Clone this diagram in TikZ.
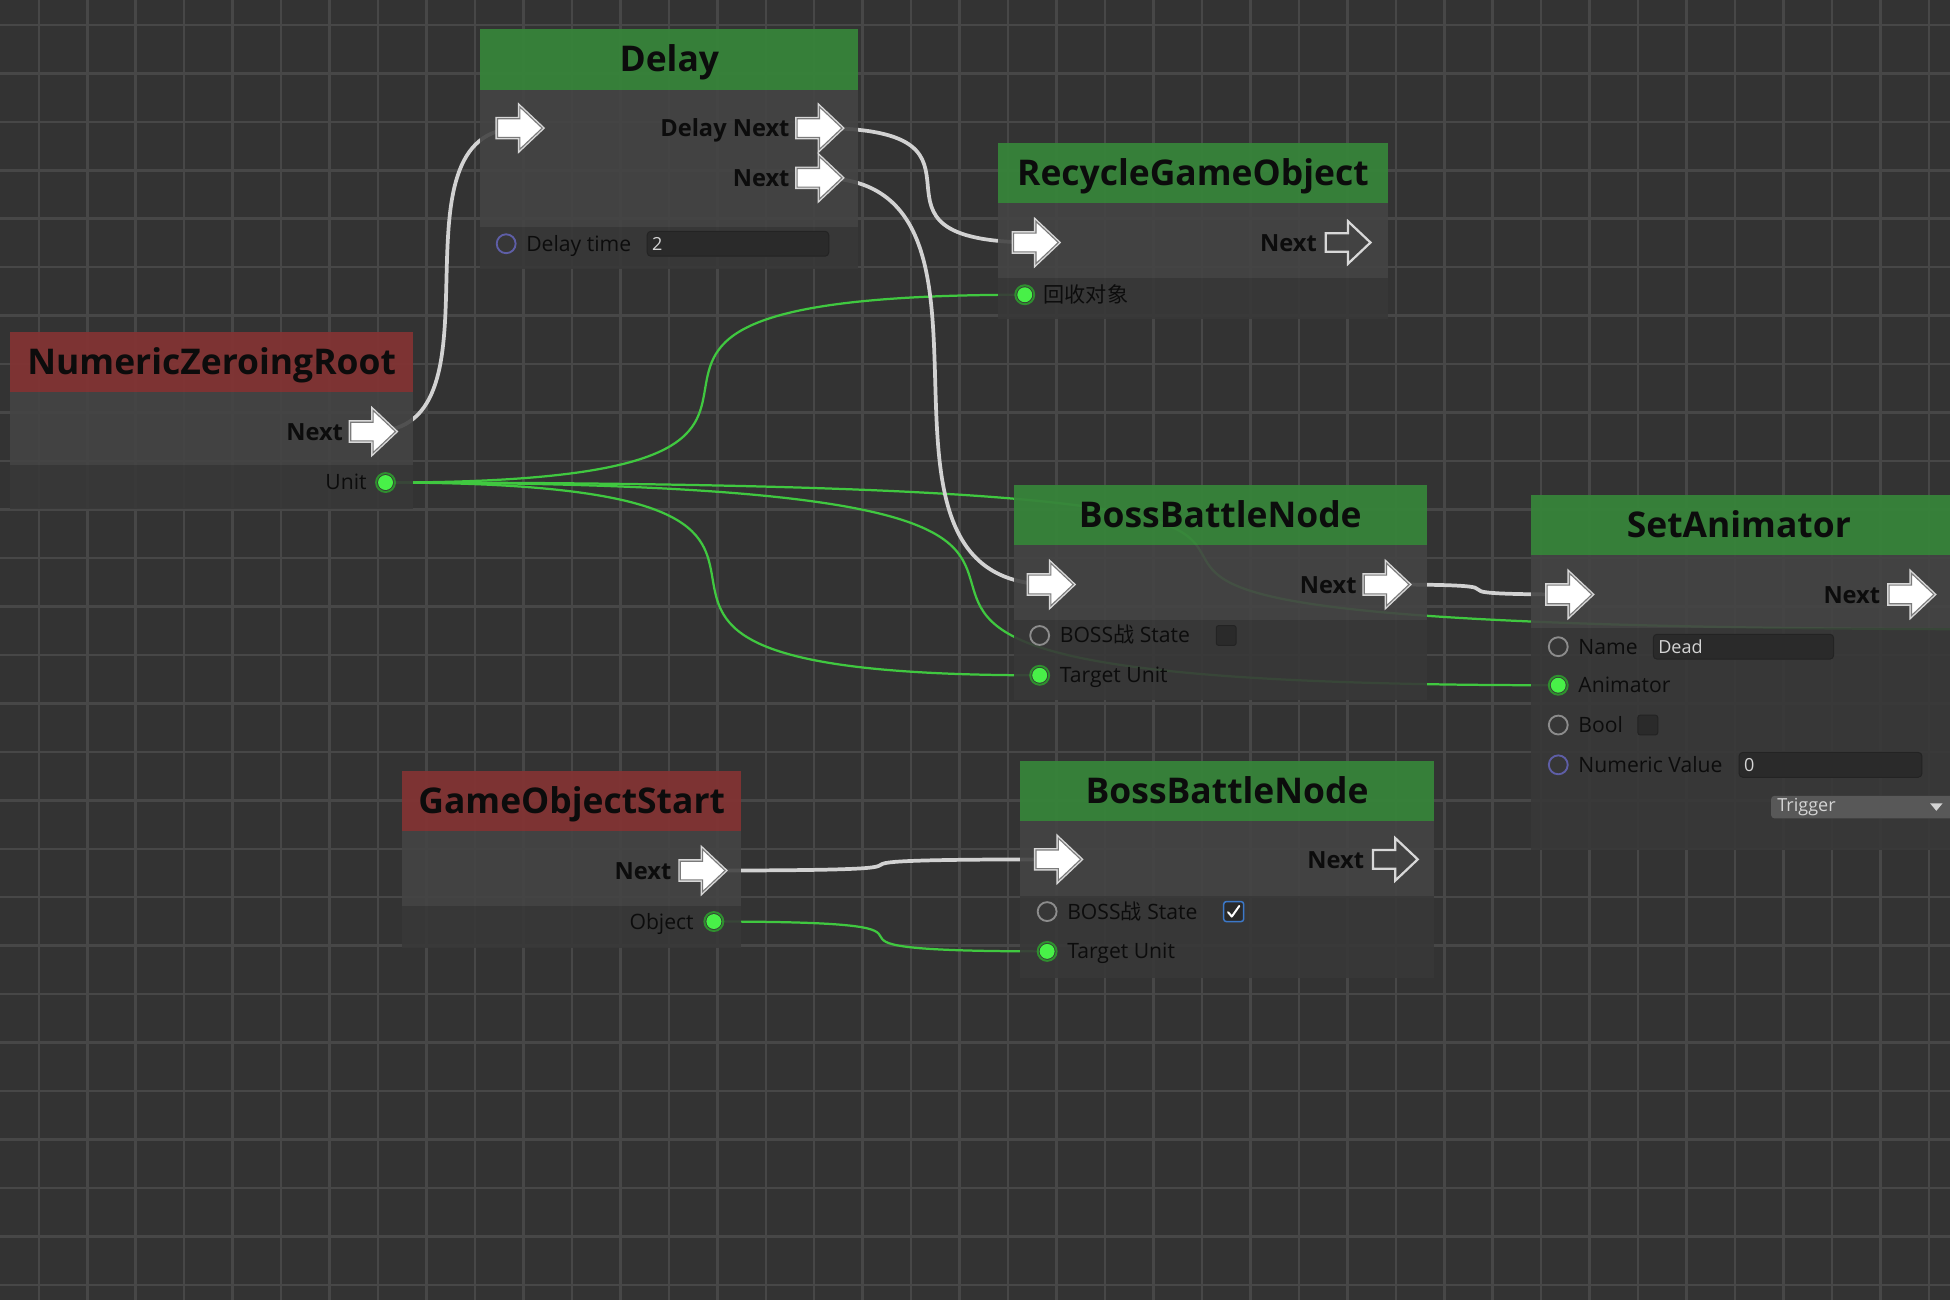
\documentclass[tikz,border=0pt]{standalone}
\usepackage{fontspec}
\setmainfont{Open Sans}
\newfontfamily\cjk{Noto Sans CJK SC}
\usetikzlibrary{calc}
\definecolor{bg}{HTML}{333333}
\definecolor{gridc}{HTML}{474747}
\definecolor{hdrgreen}{HTML}{37843A}
\definecolor{hdrred}{HTML}{823334}
\definecolor{bodyc}{HTML}{444444}
\definecolor{footc}{HTML}{383838}
\definecolor{wirew}{HTML}{D2D2D2}
\definecolor{wireg}{HTML}{40C840}
\definecolor{labelc}{HTML}{0C0C0C}
\definecolor{fieldc}{HTML}{2A2A2A}
\definecolor{fieldedge}{HTML}{232323}
\definecolor{fieldtxt}{HTML}{D4D4D4}
\definecolor{dotg}{HTML}{48F048}
\definecolor{dotring}{HTML}{2F8F2F}
\definecolor{ringgray}{HTML}{8C8C8C}
\definecolor{ringpurple}{HTML}{5E5EA6}
\definecolor{checkblue}{HTML}{3C78C8}
\definecolor{ddc}{HTML}{585858}
\definecolor{arrowedge}{HTML}{D8D8D8}
\definecolor{arrowdark}{HTML}{7A7A7A}

\tikzset{
  gridline/.style={gridc, line width=2pt},
  hdr/.style={anchor=north west, rectangle, inner sep=0pt, fill opacity=0.95, text opacity=1,
    font=\fontsize{28.5}{31}\selectfont\bfseries, text=labelc, text height=20.3pt, text depth=0pt},
  bodybox/.style={anchor=north west, rectangle, inner sep=0pt, fill=bodyc, fill opacity=0.9},
  footbox/.style={anchor=north west, rectangle, inner sep=0pt, fill=footc, fill opacity=0.9},
  whitewire/.style={wirew, line width=3pt},
  greenwire/.style={wireg, line width=1.8pt},
  lbl/.style={font=\fontsize{17}{20}\selectfont, text=labelc, inner sep=0pt},
  plbl/.style={font=\fontsize{19}{22}\selectfont\bfseries, text=labelc, inner sep=0pt},
  field/.style={rectangle, rounded corners=3pt, fill=fieldc, draw=fieldedge, line width=0.8pt,
    inner xsep=4pt, inner ysep=0pt, align=left, font=\fontsize{14.5}{16}\selectfont, text=fieldtxt},
  cbox/.style={rectangle, rounded corners=2pt, minimum size=16pt, inner sep=0pt, fill=fieldc, draw=fieldedge, line width=0.8pt},
  ddbox/.style={rectangle, rounded corners=2.5pt, fill=ddc, inner xsep=5pt, inner ysep=0pt, align=left,
    font=\fontsize{14.5}{16}\selectfont, text=fieldtxt},
  pics/fullarrow/.style={code={
    \draw[arrowedge, line width=3.2pt, line join=miter]
      (-18,-7.5) -- (0,-7.5) -- (0,-17) -- (18,0) -- (0,17) -- (0,7.5) -- (-18,7.5) -- cycle;
    \filldraw[fill=white, draw=arrowdark, line width=0.9pt, line join=miter]
      (-18,-7.5) -- (0,-7.5) -- (0,-17) -- (18,0) -- (0,17) -- (0,7.5) -- (-18,7.5) -- cycle;
  }},
  pics/hollowarrow/.style={code={
    \draw[arrowedge, line width=1.8pt, line join=miter]
      (-18,-7.5) -- (0,-7.5) -- (0,-17) -- (18,0) -- (0,17) -- (0,7.5) -- (-18,7.5) -- cycle;
  }},
  pics/gport/.style={code={
    \draw[dotring, line width=1.6pt] (0,0) circle (7.6pt);
    \fill[dotg] (0,0) circle (6pt);
  }},
  pics/eport/.style={code={
    \draw[ringgray, line width=1.5pt] (0,0) circle (7.6pt);
  }},
  pics/pport/.style={code={
    \draw[ringpurple, line width=1.5pt] (0,0) circle (7.6pt);
  }}
}

% name, x0, x1, ytop, yhead, ybody, ybottom, colour, title
\newcommand\panel[9]{%
  \node[hdr, fill=#8, minimum width={#3pt-#2pt}, minimum height={#5pt-#4pt}] (#1h) at (#2,#4) {#9};
  \node[bodybox, minimum width={#3pt-#2pt}, minimum height={#6pt-#5pt}] (#1b) at (#2,#5) {};
  \node[footbox, minimum width={#3pt-#2pt}, minimum height={#7pt-#6pt}] (#1f) at (#2,#6) {};
}
\newcommand\wire[3]{\draw[#1] let \p1=(#2), \p2=(#3), \n1={0.95*(\x2-\x1)} in
  (\p1) .. controls +(\n1,0) and +(-\n1,0) .. (\p2);}

\begin{document}
\begin{tikzpicture}[x=1pt, y=-1pt]
\useasboundingbox (0,0) rectangle (1568,1045);
\clip (0,0) rectangle (1568,1045);
\fill[bg] (0,0) rectangle (1568,1045);
\foreach \i in {0,...,40} {\draw[gridline] ({31.2+38.97*\i},0) -- ++(0,1045);}
\foreach \j in {0,...,27} {\draw[gridline] (0,{20+38.97*\j}) -- ++(1568,0);}

% ports
\coordinate (nzrNext) at (300,347);
\coordinate (nzrUnit) at (310,388);
\coordinate (delayIn) at (418,103);
\coordinate (delayDN) at (659,103);
\coordinate (delayNext) at (659,143);
\coordinate (delayTime) at (407,196);
\coordinate (recIn) at (833,195);
\coordinate (recNext) at (1084,195);
\coordinate (recObj) at (824,237);
\coordinate (bb1In) at (845,470);
\coordinate (bb1Next) at (1115,470);
\coordinate (bb1State) at (836,511);
\coordinate (bb1Target) at (836,543);
\coordinate (saIn) at (1262,478);
\coordinate (saNext) at (1537,478);
\coordinate (saName) at (1253,520);
\coordinate (saAnim) at (1253,551);
\coordinate (saBool) at (1253,583);
\coordinate (saNum) at (1253,615);
\coordinate (gosNext) at (565,700);
\coordinate (gosObj) at (574,741);
\coordinate (bb2In) at (851,691);
\coordinate (bb2Next) at (1122,691);
\coordinate (bb2State) at (842,733);
\coordinate (bb2Target) at (842,765);
\coordinate (offR) at (1625,506);

% wires
\wire{greenwire}{nzrUnit}{recObj}
\wire{greenwire}{nzrUnit}{offR}
\wire{greenwire}{nzrUnit}{bb1Target}
\wire{greenwire}{nzrUnit}{saAnim}
\wire{greenwire}{gosObj}{bb2Target}
\wire{whitewire}{nzrNext}{delayIn}
\wire{whitewire}{delayDN}{recIn}
\wire{whitewire}{delayNext}{bb1In}
\wire{whitewire}{bb1Next}{saIn}
\wire{whitewire}{gosNext}{bb2In}

% panels
\panel{delay}{386}{690}{23}{72}{182}{216}{hdrgreen}{Delay}
\panel{rec}{802}{1116}{115}{163}{223}{256}{hdrgreen}{RecycleGameObject}
\panel{nzr}{8}{332}{267}{315}{374}{409}{hdrred}{NumericZeroingRoot}
\panel{bbA}{815}{1147}{390}{438}{498}{563}{hdrgreen}{BossBattleNode}
\panel{sa}{1231}{1600}{398}{446}{505}{683}{hdrgreen}{\hspace*{-35pt}SetAnimator}
\panel{gos}{323}{596}{620}{668}{728}{762}{hdrred}{GameObjectStart}
\panel{bbB}{820}{1153}{612}{660}{720}{786}{hdrgreen}{BossBattleNode}

% Delay
\pic at (delayIn) {fullarrow};
\pic at (delayDN) {fullarrow};
\pic at (delayNext) {fullarrow};
\node[plbl, anchor=base east] (delayDNl) at (635,110) {Delay Next};
\node[plbl, anchor=base east] (delayNextl) at (635,150) {Next};
\pic at (delayTime) {pport};
\node[lbl, anchor=base west] (delayTimel) at (423,202) {Delay time};
\node[field, anchor=west, minimum height=20pt, text width=138pt] (delayTF) at (520,196) {2};

% RecycleGameObject
\pic at (recIn) {fullarrow};
\pic at (recNext) {hollowarrow};
\node[plbl, anchor=base east] (recNextl) at (1059,202) {Next};
\pic at (recObj) {gport};
\node[lbl, anchor=base west] (recObjl) at (839,243) {\cjk 回收对象};

% NumericZeroingRoot
\pic at (nzrNext) {fullarrow};
\node[plbl, anchor=base east] (nzrNextl) at (276,354) {Next};
\pic at (nzrUnit) {gport};
\node[lbl, anchor=base east] (nzrUnitl) at (295,394) {Unit};

% BossBattleNode A
\pic at (bb1In) {fullarrow};
\pic at (bb1Next) {fullarrow};
\node[plbl, anchor=base east] (bb1Nextl) at (1091,477) {Next};
\pic at (bb1State) {eport};
\node[lbl, anchor=base west] (bb1Statel) at (852,517) {BOSS{\cjk 战} State};
\node[cbox] (bb1cb) at (986,511) {};
\pic at (bb1Target) {gport};
\node[lbl, anchor=base west] (bb1Targetl) at (852,549) {Target Unit};

% SetAnimator
\pic at (saIn) {fullarrow};
\pic at (saNext) {fullarrow};
\node[plbl, anchor=base east] (saNextl) at (1512,485) {Next};
\pic at (saName) {eport};
\node[lbl, anchor=base west] (saNamel) at (1269,526) {Name};
\node[field, anchor=west, minimum height=20pt, text width=137pt] (saNameF) at (1329,520) {Dead};
\pic at (saAnim) {gport};
\node[lbl, anchor=base west] (saAniml) at (1269,557) {Animator};
\pic at (saBool) {eport};
\node[lbl, anchor=base west] (saBooll) at (1269,589) {Bool};
\node[cbox] (sacb) at (1325,583) {};
\pic at (saNum) {pport};
\node[lbl, anchor=base west] (saNuml) at (1269,621) {Numeric Value};
\node[field, anchor=west, minimum height=20pt, text width=139pt] (saNumF) at (1398,615) {0};
\node[ddbox, anchor=west, minimum height=18pt, text width=150pt] (saDD) at (1424,649) {Trigger};
\fill[fieldtxt] (1552,646) -- (1562,646) -- (1557,652) -- cycle;

% GameObjectStart
\pic at (gosNext) {fullarrow};
\node[plbl, anchor=base east] (gosNextl) at (540,707) {Next};
\pic at (gosObj) {gport};
\node[lbl, anchor=base east] (gosObjl) at (558,747) {Object};

% BossBattleNode B
\pic at (bb2In) {fullarrow};
\pic at (bb2Next) {hollowarrow};
\node[plbl, anchor=base east] (bb2Nextl) at (1097,698) {Next};
\pic at (bb2State) {eport};
\node[lbl, anchor=base west] (bb2Statel) at (858,739) {BOSS{\cjk 战} State};
\node[cbox, draw=checkblue, line width=1.2pt] (bb2cb) at (992,733) {};
\draw[white, line width=1.6pt, line cap=round, line join=round] (987.5,733.5) -- (990.5,737) -- (996.5,728.5);
\pic at (bb2Target) {gport};
\node[lbl, anchor=base west] (bb2Targetl) at (858,771) {Target Unit};
\end{tikzpicture}
\end{document}
